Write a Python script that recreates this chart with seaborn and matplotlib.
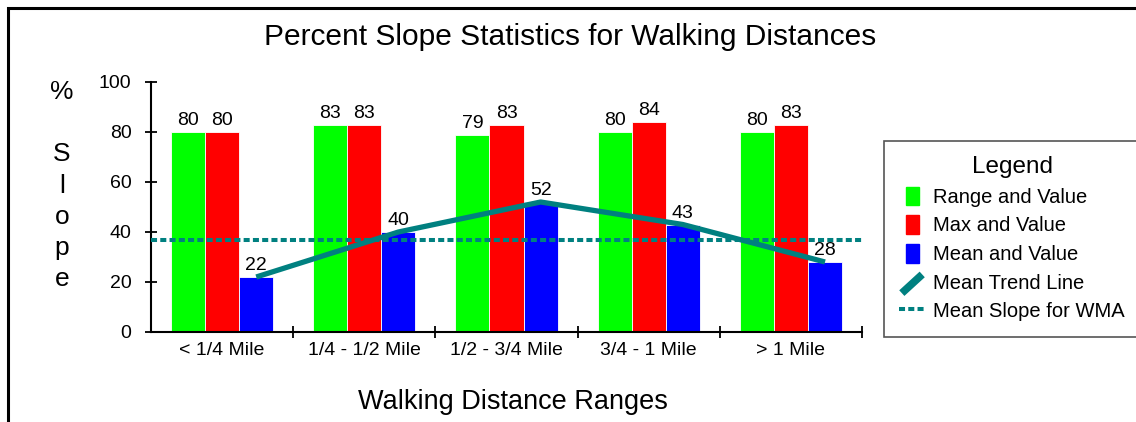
import numpy as np
import pandas as pd
import seaborn as sns
import matplotlib.pyplot as plt
from matplotlib.patches import Patch, Rectangle
from matplotlib.lines import Line2D
from matplotlib.legend_handler import HandlerPatch, HandlerBase

categories = ["< 1/4 Mile", "1/4 - 1/2 Mile", "1/2 - 3/4 Mile", "3/4 - 1 Mile", "> 1 Mile"]
series = ["Range and Value", "Max and Value", "Mean and Value"]
range_vals = [80, 83, 79, 80, 80]
max_vals = [80, 83, 83, 84, 83]
mean_vals = [22, 40, 52, 43, 28]
mean_wma = 37
y_ticks = [0, 20, 40, 60, 80, 100]

colors = ["#00ff00", "#ff0000", "#0000ff"]
teal = "#008080"

sns.set_style("white")
plt.rcParams["font.family"] = ["Liberation Sans", "DejaVu Sans"]
plt.rcParams["text.color"] = "black"
plt.rcParams["xtick.color"] = "black"
plt.rcParams["ytick.color"] = "black"
plt.rcParams["axes.labelcolor"] = "black"

df = pd.DataFrame({
    "Distance": categories * 3,
    "Series": np.repeat(series, len(categories)),
    "Value": range_vals + max_vals + mean_vals,
})

W, H = 1136, 422
fig = plt.figure(figsize=(W / 100, H / 100), dpi=100)
ax = fig.add_axes([151 / W, 1 - 332 / H, (862 - 151) / W, (332 - 82) / H])

sns.barplot(data=df, x="Distance", y="Value", hue="Series", hue_order=series,
            palette=colors, width=0.72, saturation=1, edgecolor="white",
            linewidth=0.6, legend=False, ax=ax)

for c in ax.containers:
    ax.bar_label(c, padding=2, fontsize=14, color="black")

# trend line through the tops of the mean bars
xs = [p.get_x() + p.get_width() / 2 for p in ax.containers[2]]
ax.plot(xs, mean_vals, color=teal, lw=3.8, solid_capstyle="butt", zorder=4)
ax.axhline(mean_wma, color=teal, lw=2.9, ls=(0, (1.5, 0.8)), zorder=3)

ax.set_xlim(-0.5, len(categories) - 0.5)
ax.set_ylim(0, 100)
ax.set_yticks(y_ticks)
ax.set_xticks([i + 0.5 for i in range(len(categories))])
ax.set_xticklabels([])
ax.set_xticks(range(len(categories)), minor=True)
ax.set_xticklabels(categories, minor=True)
ax.tick_params(axis="x", which="major", bottom=True, direction="inout", length=9,
               width=1.3, color="black")
ax.tick_params(axis="x", which="minor", bottom=True, length=0, pad=7, labelsize=14)
ax.tick_params(axis="y", left=True, direction="inout", length=8, width=1.3, pad=10,
               labelsize=14, color="black")
ax.set_xlabel("")
ax.set_ylabel("")
sns.despine(ax=ax)
for s in ["left", "bottom"]:
    ax.spines[s].set_linewidth(1.5)
    ax.spines[s].set_color("black")

fig.text(570 / W, 1 - 37 / H, "Percent Slope Statistics for Walking Distances",
         fontsize=21.5, ha="center", va="center")
fig.text(513 / W, 1 - 402 / H, "Walking Distance Ranges", fontsize=19.5,
         ha="center", va="center")
fig.text(62 / W, 1 - 80 / H, "%\n\nS\nl\no\np\ne", fontsize=19, ha="center",
         va="top", linespacing=1.38)

fig.add_artist(Rectangle((8 / W, -0.1), 1.2, 1.1 - 8 / H, transform=fig.transFigure,
                         fill=False, lw=2.2, ec="black"))


def narrow_patch(legend, orig_handle, xdescent, ydescent, width, height, fontsize):
    return Rectangle((-xdescent + width * 0.26, -ydescent), width * 0.48, height)


class HandlerSlant(HandlerBase):
    def create_artists(self, legend, orig_handle, xdescent, ydescent, width, height,
                       fontsize, trans):
        line = Line2D([-xdescent + 0.1 * width, -xdescent + 0.85 * width],
                      [-ydescent - 0.1 * height, -ydescent + 0.9 * height])
        self.update_prop(line, orig_handle, legend)
        line.set_transform(trans)
        return [line]


trend = Line2D([], [], color=teal, lw=5.5, solid_capstyle="butt")
wma = Line2D([], [], color=teal, lw=2.9, ls=(0, (1.5, 0.8)))
handles = [Patch(color=c) for c in colors] + [trend, wma]
labels = series + ["Mean Trend Line", "Mean Slope for WMA"]
leg = fig.legend(handles, labels, loc="upper left",
                 bbox_to_anchor=(884 / W, 1 - 141 / H), borderaxespad=0,
                 fancybox=False, edgecolor="#555555", framealpha=1,
                 title="Legend", title_fontsize=17.5, fontsize=14.5,
                 handlelength=1.35, handleheight=1.05, handletextpad=0.35,
                 borderpad=0.75, labelspacing=0.42,
                 handler_map={Patch: HandlerPatch(patch_func=narrow_patch),
                              trend: HandlerSlant()})
leg.get_frame().set_linewidth(1.2)

fig.savefig("out.png", dpi=100)
